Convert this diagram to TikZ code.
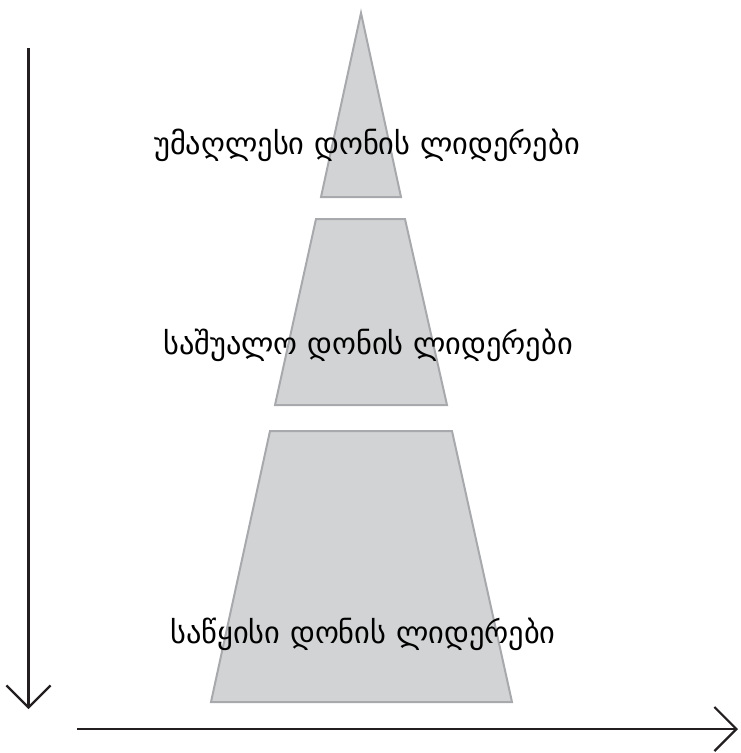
\documentclass[tikz,border=0pt]{standalone}
\usepackage{fontspec}
\newfontfamily\geofont{DejaVu Sans}
\usetikzlibrary{arrows.meta}
\definecolor{tierfill}{RGB}{209,211,212}
\definecolor{tierline}{RGB}{167,169,172}
\definecolor{axisline}{RGB}{35,31,32}
\tikzset{
  tier/.style={fill=tierfill, draw=tierline, line width=2pt, line join=miter},
  axis/.style={draw=axisline, line width=2.4pt, -{Straight Barb[length=22pt,width=44pt,line width=2.2pt]}},
  tierlabel/.style={font=\geofont\fontsize{30.4}{34}\selectfont, text=black, anchor=base, inner sep=0pt}
}
\begin{document}
\begin{tikzpicture}[x=1pt,y=-1pt]
\useasboundingbox (0,0) rectangle (740,753);
% tiers
\draw[tier] (361,13) -- (401,197) -- (321,197) -- cycle;
\draw[tier] (316,219) -- (405,219) -- (447,405) -- (275,405) -- cycle;
\draw[tier] (270,431) -- (452,431) -- (512,702) -- (211,702) -- cycle;
% labels
\node[tierlabel] (top) at (367,154) {უმაღლესი დონის ლიდერები};
\node[tierlabel] (mid) at (368,354) {საშუალო დონის ლიდერები};
\node[tierlabel] (low) at (363,643) {საწყისი დონის ლიდერები};
% axes
\coordinate (vstart) at (28.5,48);
\coordinate (vend) at (28.5,709);
\coordinate (hstart) at (77,729);
\coordinate (hend) at (738,729);
\draw[axis] (vstart) -- (vend);
\draw[axis] (hstart) -- (hend);
\end{tikzpicture}
\end{document}
